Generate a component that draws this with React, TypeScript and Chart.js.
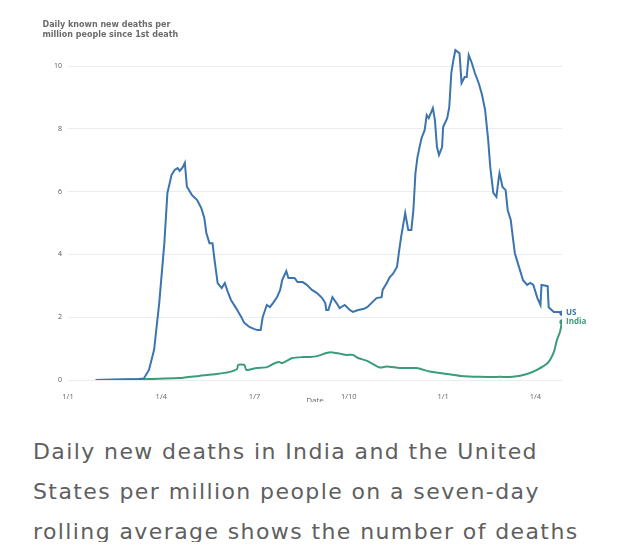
import React, { useEffect, useRef } from "react";
import { Chart, registerables } from "chart.js";

Chart.register(...registerables);

// Days counted from 1 Jan 2020
const usDays = [27, 69, 74, 79, 84, 89, 94, 97, 101, 104, 107, 109, 112, 114, 116, 121, 126, 130, 133, 135, 138, 141, 143, 146, 150, 153, 156, 159, 164, 169, 172, 177, 182, 185, 188, 190, 194, 197, 200, 204, 207, 209, 213, 215, 221, 224, 229, 233, 238, 243, 248, 251, 252, 254, 258, 262, 265, 270, 275, 278, 283, 288, 292, 297, 301, 306, 307, 311, 314, 317, 321, 323, 325, 329, 332, 335, 337, 339, 341, 343, 345, 348, 350, 352, 356, 358, 360, 362, 365, 366, 370, 372, 374, 376, 378, 382, 384, 387, 389, 391, 394, 397, 401, 404, 407, 409, 410, 412, 415, 418, 420, 421, 424, 427, 429, 432, 434, 436, 438, 441, 444, 448, 451, 454, 458, 461, 462, 468, 469, 474, 479, 482];
const usValues = [0, 0.03, 0.05, 0.32, 0.96, 2.45, 4.36, 5.96, 6.53, 6.69, 6.75, 6.66, 6.78, 6.92, 6.16, 5.89, 5.73, 5.48, 5.16, 4.68, 4.36, 4.36, 3.82, 3.09, 2.93, 3.09, 2.8, 2.55, 2.29, 2.01, 1.82, 1.69, 1.62, 1.59, 1.59, 2.01, 2.39, 2.32, 2.45, 2.64, 2.87, 3.18, 3.47, 3.25, 3.25, 3.12, 3.12, 3.03, 2.87, 2.77, 2.61, 2.45, 2.23, 2.23, 2.64, 2.45, 2.29, 2.39, 2.23, 2.17, 2.23, 2.26, 2.32, 2.48, 2.61, 2.64, 2.87, 3.09, 3.28, 3.38, 3.6, 4.1, 4.55, 5.32, 4.78, 4.78, 5.41, 6.59, 7.1, 7.42, 7.71, 7.96, 8.44, 8.34, 8.66, 8.28, 7.42, 7.17, 7.42, 8.06, 8.34, 8.69, 9.78, 10.19, 10.51, 10.41, 9.46, 9.65, 9.65, 10.35, 10.1, 9.78, 9.43, 9.08, 8.6, 7.96, 7.64, 6.78, 5.96, 5.83, 6.37, 6.59, 6.15, 6.05, 5.41, 5.1, 4.55, 4.04, 3.82, 3.5, 3.18, 3.03, 3.09, 3.03, 2.61, 2.39, 3.03, 2.99, 2.32, 2.17, 2.17, 2.13];

const indiaDays = [27, 70, 89, 109, 128, 145, 157, 165, 166, 172, 174, 184, 194, 200, 206, 209, 219, 229, 236, 243, 252, 258, 265, 272, 278, 283, 292, 304, 311, 324, 340, 353, 366, 383, 402, 422, 434, 448, 458, 468, 474, 477, 480, 482];
const indiaValues = [0, 0.02, 0.04, 0.06, 0.13, 0.19, 0.25, 0.35, 0.48, 0.48, 0.32, 0.38, 0.41, 0.51, 0.57, 0.54, 0.7, 0.73, 0.73, 0.76, 0.86, 0.88, 0.84, 0.8, 0.8, 0.7, 0.61, 0.4, 0.43, 0.38, 0.38, 0.27, 0.21, 0.13, 0.1, 0.1, 0.1, 0.19, 0.33, 0.54, 0.89, 1.27, 1.53, 1.85];

const seriesNames = ["US", "India"];
const tickDays = [0, 91, 182, 274, 366, 456];
const tickLabels = ["1/1", "1/4", "1/7", "1/10", "1/1", "1/4"];
const yTicks = [0, 2, 4, 6, 8, 10];

const US_COLOR = "#3b74ae";
const INDIA_COLOR = "#3a9d78";
const FONT = "'Open Sans', sans-serif";

export default function App() {
  const ref = useRef<HTMLCanvasElement>(null);

  useEffect(() => {
    const endLabels = {
      id: "endLabels",
      afterDatasetsDraw(chart: any) {
        const ctx = chart.ctx;
        ctx.save();
        ctx.font = `bold 8px ${FONT}`;
        ctx.textBaseline = "middle";
        ctx.textAlign = "left";
        chart.data.datasets.forEach((ds: any, i: number) => {
          const meta = chart.getDatasetMeta(i);
          const el = meta.data[meta.data.length - 1];
          ctx.fillStyle = ds.borderColor;
          ctx.fillText(ds.label, el.x + 4, el.y);
        });
        ctx.restore();
      },
    };

    const chart = new Chart(ref.current!, {
      type: "line",
      data: {
        datasets: [
          {
            label: seriesNames[0],
            data: usDays.map((d, i) => ({ x: d, y: usValues[i] })),
            borderColor: US_COLOR,
            backgroundColor: US_COLOR,
            borderWidth: 2,
            pointRadius: (c: any) => (c.dataIndex === usDays.length - 1 ? 1.6 : 0),
            tension: 0,
            fill: false,
          },
          {
            label: seriesNames[1],
            data: indiaDays.map((d, i) => ({ x: d, y: indiaValues[i] })),
            borderColor: INDIA_COLOR,
            backgroundColor: INDIA_COLOR,
            borderWidth: 2,
            pointRadius: (c: any) => (c.dataIndex === indiaDays.length - 1 ? 1.6 : 0),
            tension: 0.2,
            fill: false,
          },
        ],
      },
      options: {
        animation: false,
        responsive: false,
        layout: { padding: { left: 0, right: 70, top: 33, bottom: 0 } },
        plugins: { legend: { display: false }, tooltip: { enabled: false } },
        scales: {
          x: {
            type: "linear",
            min: 0,
            max: 482,
            grid: { display: false },
            border: { display: false },
            afterBuildTicks: (s: any) => {
              s.ticks = tickDays.map((v) => ({ value: v }));
            },
            afterFit: (s: any) => {
              s.height = 48;
            },
            ticks: {
              autoSkip: false,
              maxRotation: 0,
              padding: 4,
              color: "#666",
              font: { family: FONT, size: 7.5 },
              callback: (_v: any, i: number) => tickLabels[i],
            },
            title: {
              display: true,
              text: "Date",
              color: "#666",
              font: { family: FONT, size: 8 },
              padding: { top: 0, bottom: 22 },
            },
          },
          y: {
            min: 0,
            max: 10.8,
            afterBuildTicks: (s: any) => {
              s.ticks = yTicks.map((v) => ({ value: v }));
            },
            afterFit: (s: any) => {
              s.width = 60;
            },
            grid: { color: "#e8edf1", drawTicks: false, lineWidth: 1 },
            border: { display: false },
            ticks: {
              padding: 6,
              color: "#555",
              font: { family: FONT, size: 7 },
            },
          },
        },
      },
      plugins: [endLabels],
    } as any);
    return () => chart.destroy();
  }, []);

  return (
    <div style={{ position: "relative", width: 624, height: 534, fontFamily: FONT }}>
      <div style={{ position: "absolute", left: 0, top: 0, width: 624, height: 394, overflow: "hidden" }}>
        <canvas ref={ref} width={624} height={420} style={{ display: "block", width: 624, height: 420 }} />
      </div>
      <div
        style={{
          position: "absolute",
          left: 34.5,
          top: 11.5,
          fontSize: 8,
          lineHeight: "10px",
          fontWeight: 700,
          color: "#6b6b6b",
          whiteSpace: "nowrap",
          fontFamily: "'DejaVu Sans', sans-serif",
        }}
      >
        <div>Daily known new deaths per</div>
        <div>million people since 1st death</div>
      </div>
      <div
        style={{
          position: "absolute",
          left: 25,
          top: 424,
          fontSize: 22,
          lineHeight: "40px",
          color: "#5f5f5f",
          whiteSpace: "nowrap",
          letterSpacing: "1.4px",
          fontFamily: "'DejaVu Sans', sans-serif",
        }}
      >
        <div>Daily new deaths in India and the United</div>
        <div>States per million people on a seven-day</div>
        <div>rolling average shows the number of deaths</div>
      </div>
    </div>
  );
}
